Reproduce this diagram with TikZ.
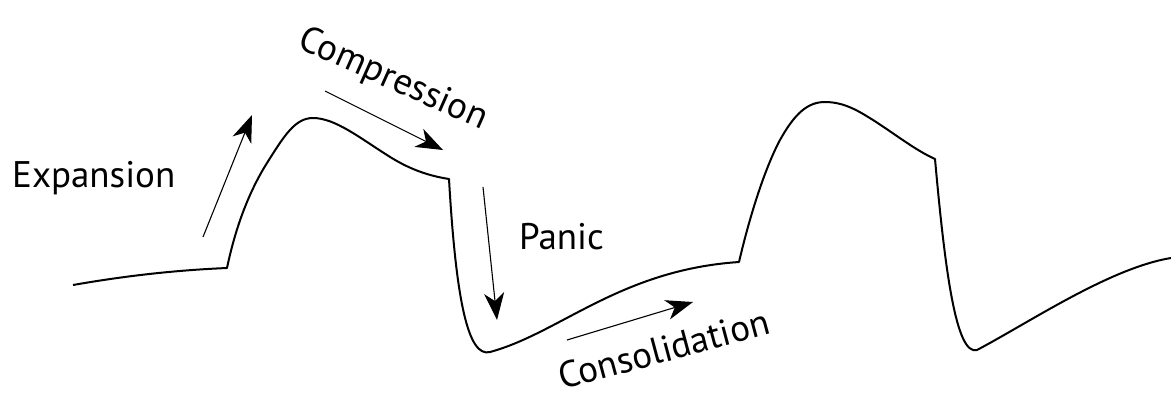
\documentclass[tikz,border=0pt]{standalone}
\usepackage{fontspec}
\setmainfont{PT Sans}
\usetikzlibrary{arrows.meta}
\tikzset{
  cycle line/.style={line width=2pt, line join=round},
  phase arrow/.style={line width=1.1pt, -{Stealth[length=27pt,width=20pt,inset=8pt]}},
  phase label/.style={font=\fontsize{37}{42}\selectfont, inner sep=0pt}
}
\begin{document}
\begin{tikzpicture}[x=1pt, y=-1pt]
  \useasboundingbox (0,0) rectangle (1171,399);
  % the business cycle
  \draw[cycle line] (73,285) .. controls (130,275) and (180,270) .. (227,268)
    .. controls (236,225) and (250,190) .. (267,163)
    .. controls (284,136) and (295,118) .. (313,118)
    .. controls (335,118) and (360,138) .. (387,155)
    .. controls (410,170) and (430,176) .. (449,179)
    .. controls (456,300) and (468,358) .. (490,352)
    .. controls (560,333) and (620,270) .. (739,262)
    .. controls (750,215) and (765,168) .. (780,140)
    .. controls (795,113) and (808,102) .. (825,102)
    .. controls (845,102) and (860,112) .. (873,120)
    .. controls (895,134) and (915,150) .. (935,159)
    .. controls (945,270) and (956,356) .. (977,350)
    .. controls (1030,322) and (1110,268) .. (1171,258);
  % labels
  \node[phase label, anchor=base west] (expansion) at (12,187) {Expansion};
  \node[phase label, rotate=-24] (compression) at (393,80) {Compression};
  \node[phase label, anchor=base west] (panic) at (519,249) {Panic};
  \node[phase label, rotate=15] (consolidation) at (664,349) {Consolidation};
  % arrows
  \coordinate (exp from) at (203,237);
  \coordinate (exp to) at (252,115);
  \coordinate (comp from) at (325,91);
  \coordinate (comp to) at (443,150);
  \coordinate (pan from) at (483,187);
  \coordinate (pan to) at (497,320);
  \coordinate (cons from) at (567,340);
  \coordinate (cons to) at (693,302);
  \draw[phase arrow] (exp from) -- (exp to);
  \draw[phase arrow] (comp from) -- (comp to);
  \draw[phase arrow] (pan from) -- (pan to);
  \draw[phase arrow] (cons from) -- (cons to);
\end{tikzpicture}
\end{document}
